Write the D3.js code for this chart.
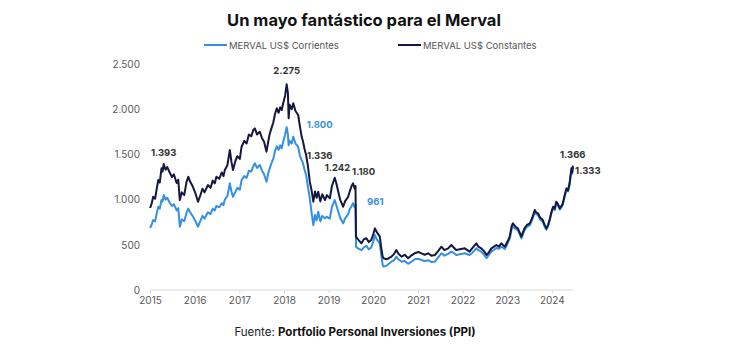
<!DOCTYPE html>
<html>
<head>
<meta charset="utf-8">
<script src="https://cdn.jsdelivr.net/npm/d3@7"></script>
<style>
  html, body { margin: 0; padding: 0; background: #fff; }
  svg { display: block; font-family: Inter, "Noto Sans", sans-serif; }
</style>
</head>
<body>
<svg id="chart" width="730" height="358"></svg>
<script>
// ---- data ----
const dates = [
  "2015-01-02","2015-01-15","2015-01-27","2015-02-12","2015-02-25","2015-03-10","2015-03-22","2015-04-05","2015-04-14","2015-04-23",
  "2015-05-08","2015-05-22","2015-06-13","2015-06-30","2015-07-15","2015-08-07","2015-08-20","2015-09-02","2015-09-18","2015-10-08",
  "2015-10-26","2015-11-10","2015-11-25","2015-12-15",
  "2016-01-05","2016-01-29","2016-02-15","2016-03-05","2016-03-22","2016-04-19","2016-05-10","2016-05-28","2016-06-14","2016-06-27",
  "2016-07-20","2016-08-10","2016-08-24","2016-09-04","2016-09-25","2016-10-15","2016-10-28","2016-11-10","2016-11-28","2016-12-15",
  "2017-01-05","2017-01-19","2017-02-10","2017-03-01","2017-03-20","2017-04-08","2017-04-25","2017-05-08","2017-05-25","2017-06-17",
  "2017-07-05","2017-07-22","2017-08-11","2017-08-25","2017-09-05","2017-09-20","2017-10-05","2017-10-20","2017-11-03","2017-11-18",
  "2017-12-01","2017-12-13","2017-12-28",
  "2018-01-10","2018-01-23","2018-02-02","2018-02-08","2018-02-16","2018-03-05","2018-03-18","2018-04-05","2018-04-27","2018-05-10",
  "2018-05-25","2018-06-06","2018-06-18","2018-07-01","2018-07-15","2018-07-31","2018-08-15","2018-08-29","2018-09-12","2018-09-25",
  "2018-10-08","2018-10-25","2018-11-10","2018-12-02","2018-12-18",
  "2019-01-11","2019-01-28","2019-02-20","2019-03-05","2019-03-18","2019-04-05","2019-04-30","2019-05-15","2019-06-10","2019-06-25",
  "2019-07-08","2019-07-20","2019-08-02","2019-08-09","2019-08-13","2019-08-29","2019-09-27","2019-10-15","2019-11-06","2019-11-25",
  "2019-12-16",
  "2020-01-02","2020-01-15","2020-01-30","2020-02-24","2020-03-05","2020-03-18","2020-03-25","2020-04-20","2020-05-29","2020-06-20",
  "2020-07-08","2020-07-25","2020-08-21","2020-09-15","2020-10-12","2020-11-05","2020-12-05",
  "2021-01-05","2021-01-29","2021-02-25","2021-03-25","2021-04-20","2021-05-19","2021-06-15","2021-07-12","2021-08-05","2021-09-05",
  "2021-10-01","2021-10-20","2021-11-10","2021-12-10",
  "2022-01-19","2022-02-27","2022-03-20","2022-04-23","2022-05-10","2022-06-02","2022-06-25","2022-07-16","2022-08-05","2022-08-25",
  "2022-09-15","2022-10-04","2022-10-25","2022-11-14","2022-12-13","2022-12-28",
  "2023-01-10","2023-01-23","2023-02-05","2023-02-16","2023-03-10","2023-03-29","2023-04-15","2023-04-27","2023-05-10","2023-05-22",
  "2023-06-12","2023-07-05","2023-07-25","2023-08-14","2023-08-25","2023-09-09","2023-09-28","2023-10-19","2023-11-03","2023-11-17",
  "2023-12-01","2023-12-13","2023-12-28",
  "2024-01-11","2024-01-25","2024-02-06","2024-02-20","2024-03-06","2024-03-20","2024-03-31","2024-04-15","2024-04-30","2024-05-12",
  "2024-05-25","2024-06-09","2024-06-15","2024-06-20","2024-06-23"
];
const constantes = [
  907,960,1032,1010,1120,1217,1190,1346,1310,1393,
  1330,1360,1294,1250,1280,1183,1220,995,1080,1050,
  1190,1253,1200,1150,
  1080,977,1040,1120,1080,1161,1130,1210,1180,1253,
  1230,1300,1260,1327,1380,1549,1420,1327,1420,1480,
  1450,1585,1650,1620,1720,1700,1770,1788,1720,1751,
  1680,1640,1530,1640,1720,1788,1850,1950,2010,1960,
  2020,1991,2080,
  2150,2275,2180,1899,2050,2000,2065,1980,1936,1820,
  1700,1640,1560,1493,1380,1198,1100,977,1090,1020,
  1087,980,1060,995,1050,
  1014,1150,1242,1180,1106,1000,921,980,1032,1100,
  1150,1180,1120,1150,590,560,516,560,572,530,
  553,
  620,682,640,590,480,370,351,340,369,400,
  442,400,369,390,351,380,406,
  420,406,390,406,380,387,430,479,440,461,
  498,470,442,450,
  461,424,460,516,480,461,430,387,420,461,
  480,498,480,516,479,520,
  553,600,700,738,700,682,630,590,640,682,
  720,738,800,885,860,848,800,774,720,682,
  720,774,860,
  921,900,977,950,904,930,959,1050,1125,1100,
  1180,1346,1300,1366,1340
];
const corrientes = [
  686,725,774,760,850,921,900,995,980,1050,
  1000,1020,960,930,950,880,905,700,780,760,
  850,900,860,820,
  770,700,760,820,790,860,840,900,880,930,
  915,960,940,1000,1040,1180,1090,1030,1080,1130,
  1110,1215,1260,1240,1320,1310,1370,1401,1350,1383,
  1320,1280,1198,1290,1340,1400,1450,1540,1590,1550,
  1600,1567,1650,
  1720,1800,1720,1600,1650,1620,1696,1620,1585,1490,
  1440,1400,1330,1272,1150,1014,850,719,830,770,
  866,760,820,793,810,
  790,920,995,940,880,800,738,790,840,900,
  930,961,915,940,479,460,440,470,490,450,
  470,
  540,608,560,516,400,280,258,270,313,330,
  369,340,313,320,290,310,340,
  345,332,320,330,310,313,360,406,380,400,
  424,410,387,395,
  406,387,410,461,440,424,390,351,390,424,
  445,465,455,479,455,490,
  534,575,670,700,675,660,610,570,620,660,
  700,715,780,860,840,830,780,755,700,665,
  705,760,845,
  905,885,965,935,890,915,945,1035,1110,1090,
  1165,1325,1285,1345,1333
];
const seriesNames = ["MERVAL US$ Corrientes", "MERVAL US$ Constantes"];
const yTicks = [0, 500, 1000, 1500, 2000, 2500];
const xTickYears = [2015, 2016, 2017, 2018, 2019, 2020, 2021, 2022, 2023, 2024];
// annotations: label, date, series
const annLabels = ["1.393", "2.275", "1.800", "1.336", "1.242", "1.180", "961", "1.366", "1.333"];
const annDates  = ["2015-04-23", "2018-01-23", "2018-01-23", "2018-06-06", "2019-02-20", "2019-07-20", "2019-07-20", "2024-06-20", "2024-06-23"];
const annSeries = ["constantes", "constantes", "corrientes", "constantes", "constantes", "constantes", "corrientes", "constantes", "corrientes"];

// ---- layout / style ----
const colors = { corrientes: "#3390e2", constantes: "#14173f" };
const annStyle = [
  { dx: 0, dy: -8, anchor: "middle" },
  { dx: 0, dy: -10, anchor: "middle" },
  { dx: 20, dy: 1, anchor: "start" },
  { dx: 4, dy: 17, anchor: "start" },
  { dx: -10, dy: -7, anchor: "start" },
  { dx: -1, dy: -8, anchor: "start" },
  { dx: 14, dy: 2, anchor: "start" },
  { dx: 0, dy: -9, anchor: "middle" },
  { dx: 2, dy: 5, anchor: "start" }
];

const parse = d3.timeParse("%Y-%m-%d");
const pts = dates.map((d, i) => ({ date: parse(d), constantes: constantes[i], corrientes: corrientes[i] }));

const svg = d3.select("#chart");
const x = d3.scaleTime().domain([new Date(2015, 0, 1), new Date(2024, 5, 22)]).range([150, 573]);
const y = d3.scaleLinear().domain([0, 2500]).range([290, 64]);

// title
svg.append("text").attr("x", 364).attr("y", 26).attr("text-anchor", "middle")
  .attr("font-size", 16.5).attr("font-weight", 700).attr("fill", "#111")
  .text("Un mayo fantástico para el Merval");

// legend
const legX = [204, 398];
["corrientes", "constantes"].forEach((k, i) => {
  const g = svg.append("g").attr("transform", `translate(${legX[i]},45)`);
  g.append("line").attr("x1", 0).attr("x2", 23).attr("y1", 0).attr("y2", 0)
    .attr("stroke", colors[k]).attr("stroke-width", 2);
  g.append("text").attr("x", 25).attr("y", 3.5).attr("font-size", 9.5).attr("fill", "#555")
    .text(seriesNames[i]);
});

// y axis
const yAxis = d3.axisLeft(y).tickValues(yTicks).tickSize(0).tickPadding(0)
  .tickFormat(d => d3.format(",")(d).replace(/,/g, "."));
const yg = svg.append("g").attr("transform", "translate(140,0)").call(yAxis);
yg.select(".domain").remove();
yg.selectAll("text").attr("font-size", 10).attr("fill", "#595959").attr("font-family", "Inter, sans-serif");

// x axis
const xAxis = d3.axisBottom(x).tickValues(xTickYears.map(yy => new Date(yy, 0, 1)))
  .tickSize(3).tickPadding(4).tickFormat(d3.timeFormat("%Y"));
const xg = svg.append("g").attr("transform", "translate(0,290)").call(xAxis);
xg.select(".domain").attr("stroke", "#d9d9d9").attr("d", "M150,0H573");
xg.selectAll(".tick line").attr("stroke", "#d9d9d9");
xg.selectAll("text").attr("font-size", 10).attr("fill", "#595959").attr("font-family", "Inter, sans-serif");

// lines
["corrientes", "constantes"].forEach(k => {
  const line = d3.line().x(d => x(d.date)).y(d => y(d[k]));
  svg.append("path").datum(pts).attr("d", line).attr("fill", "none")
    .attr("stroke", colors[k]).attr("stroke-width", 2).attr("stroke-linejoin", "round");
});

// annotations
annLabels.forEach((lab, i) => {
  const d = parse(annDates[i]);
  const idx = dates.indexOf(annDates[i]);
  const v = annSeries[i] === "constantes" ? constantes[idx] : corrientes[idx];
  const s = annStyle[i];
  svg.append("text").attr("x", x(d) + s.dx).attr("y", y(v) + s.dy)
    .attr("text-anchor", s.anchor).attr("font-size", 9.5).attr("font-weight", 700)
    .attr("fill", annSeries[i] === "corrientes" && lab !== "1.333" ? "#3a8fdc" : "#333")
    .text(lab);
});

// source
const src = svg.append("text").attr("x", 355).attr("y", 336).attr("text-anchor", "middle")
  .attr("font-size", 11.5).attr("fill", "#222");
src.append("tspan").text("Fuente: ");
src.append("tspan").attr("font-weight", 700).attr("fill", "#111").text("Portfolio Personal Inversiones (PPI)");
</script>
</body>
</html>
